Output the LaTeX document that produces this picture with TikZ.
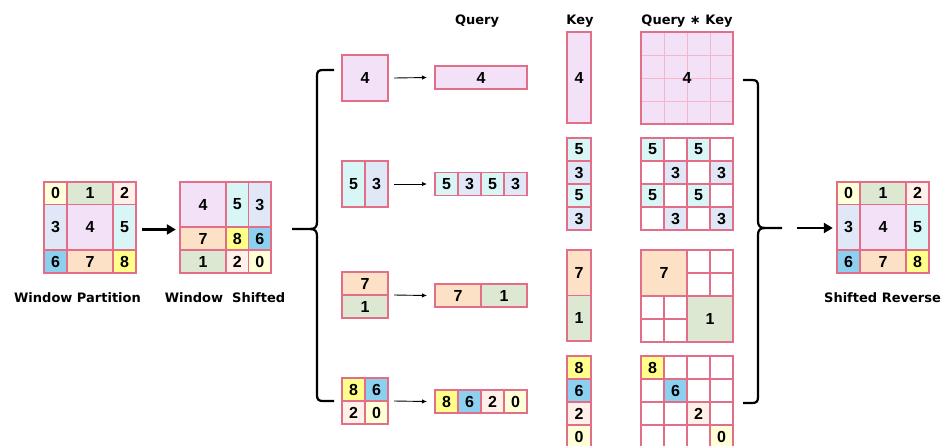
\documentclass[tikz,border=0pt]{standalone}
\usepackage{fontspec}
\setmainfont{DejaVu Sans}
\newfontfamily\numfont{Liberation Sans}
\usetikzlibrary{arrows.meta,fit,calc}

% cell fills
\definecolor{c0}{HTML}{FFFFD8}
\definecolor{c1}{HTML}{DCE8D2}
\definecolor{c2}{HTML}{FFF1EA}
\definecolor{c3}{HTML}{E0E8F8}
\definecolor{c4}{HTML}{F3E1F8}
\definecolor{c5}{HTML}{D9F6F7}
\definecolor{c6}{HTML}{8CD0EF}
\definecolor{c7}{HTML}{FDE1C6}
\definecolor{c8}{HTML}{FFFF8A}
\definecolor{edge}{HTML}{E26E88}
\definecolor{faint}{HTML}{F4B6CA}

\tikzset{
  cell/.style={draw=edge, line width=1.1pt, inner sep=0pt, outer sep=0pt,
               font=\numfont\bfseries\fontsize{16}{16}\selectfont},
  label/.style={anchor=base, font=\bfseries\fontsize{13}{13}\selectfont},
  thinarrow/.style={draw=black, line width=0.9pt, -{Latex[length=5pt,width=4.5pt]}},
  bigarrow/.style={draw=black, line width=2.4pt, -{Triangle[length=9pt,width=10pt]}},
  brace/.style={draw=black, line width=2.2pt, line join=round},
}

% name, x, y (top left), width, height, fill, text
\newcommand\mkcell[7]{%
  \node[cell, fill=#6, minimum width=#4pt, minimum height=#5pt, anchor=north west]
    (#1) at (#2,#3) {#7};}

% the 3x3 partition grid (original window order)
\newcommand\partgrid{%
  \mkcell{p0}{44}{182}{23}{22.5}{c0}{0}
  \mkcell{p1}{67}{182}{46}{22.5}{c1}{1}
  \mkcell{p2}{113}{182}{23}{22.5}{c2}{2}
  \mkcell{p3}{44}{204.5}{23}{45.5}{c3}{3}
  \mkcell{p4}{67}{204.5}{46}{45.5}{c4}{4}
  \mkcell{p5}{113}{204.5}{23}{45.5}{c5}{5}
  \mkcell{p6}{44}{250}{23}{23}{c6}{6}
  \mkcell{p7}{67}{250}{46}{23}{c7}{7}
  \mkcell{p8}{113}{250}{23}{23}{c8}{8}}

\begin{document}
\begin{tikzpicture}[x=1pt, y=-1pt]
\useasboundingbox (0,0) rectangle (944,445);
\clip (0,0) rectangle (944,445);

% ---- window partition ----
\begin{scope}[name prefix=a-]
  \partgrid
\end{scope}
\node[fit=(a-p0)(a-p8), inner sep=0pt] (gridA) {};
\node[label] (labA) at (77.5,302) {Window Partition};

% ---- shifted windows ----
\mkcell{s4}{180}{182}{46}{45}{c4}{4}
\mkcell{s5}{226}{182}{22.5}{45}{c5}{5}
\mkcell{s3}{248.5}{182}{22.5}{45}{c3}{3}
\mkcell{s7}{180}{227}{46}{23}{c7}{7}
\mkcell{s8}{226}{227}{22.5}{23}{c8}{8}
\mkcell{s6}{248.5}{227}{22.5}{23}{c6}{6}
\mkcell{s1}{180}{250}{46}{23}{c1}{1}
\mkcell{s2}{226}{250}{22.5}{23}{c2}{2}
\mkcell{s0}{248.5}{250}{22.5}{23}{c0}{0}
\node[fit=(s4)(s0), inner sep=0pt] (gridB) {};
\node[label] (labB) at (225,302) {Window\ \ Shifted};

\draw[bigarrow] ([xshift=6pt,yshift=-2pt]gridA.east) -- ([xshift=-4pt,yshift=-2pt]gridB.west);

% ---- left brace ----
\draw[brace] (334,70) -- (323,70) .. controls (318.5,70) and (317,71.5) .. (317,76)
  -- (317,222) .. controls (317,227) and (315,229) .. (310,229) -- (292,229);
\draw[brace] (334,401) -- (323,401) .. controls (318.5,401) and (317,399.5) .. (317,395)
  -- (317,236) .. controls (317,231) and (315,229) .. (310,229);

% ---- windows ----
\mkcell{w1}{342}{55}{46}{46}{c4}{4}
\mkcell{w2a}{342}{161}{23}{46}{c5}{5}
\mkcell{w2b}{365}{161}{23}{46}{c3}{3}
\mkcell{w3a}{342}{272}{46}{23}{c7}{7}
\mkcell{w3b}{342}{295}{46}{23}{c1}{1}
\mkcell{w4a}{342}{378}{23}{23}{c8}{8}
\mkcell{w4b}{365}{378}{23}{23}{c6}{6}
\mkcell{w4c}{342}{401}{23}{23}{c2}{2}
\mkcell{w4d}{365}{401}{23}{23}{c0}{0}

% ---- queries ----
\node[label] (hq) at (477,24) {Query};
\mkcell{q1}{435}{66}{92}{23}{c4}{4}
\mkcell{q2a}{435}{172.5}{23}{23}{c5}{5}
\mkcell{q2b}{458}{172.5}{23}{23}{c3}{3}
\mkcell{q2c}{481}{172.5}{23}{23}{c5}{5}
\mkcell{q2d}{504}{172.5}{23}{23}{c3}{3}
\mkcell{q3a}{435}{284}{46}{23}{c7}{7}
\mkcell{q3b}{481}{284}{46}{23}{c1}{1}
\mkcell{q4a}{435}{390}{23}{23}{c8}{8}
\mkcell{q4b}{458}{390}{23}{23}{c6}{6}
\mkcell{q4c}{481}{390}{23}{23}{c2}{2}
\mkcell{q4d}{504}{390}{23}{23}{c0}{0}

\draw[thinarrow] ([xshift=6pt]w1.east) -- ([xshift=-8pt]q1.west);
\draw[thinarrow] ([xshift=6pt]w2b.east) -- ([xshift=-8pt]q2a.west);
\draw[thinarrow] ([xshift=6pt]w3a.south east) -- ([xshift=-8pt]q3a.west);
\draw[thinarrow] ([xshift=6pt]w4b.south east) -- ([xshift=-8pt]q4a.west);

% ---- keys ----
\node[label] (hk) at (580,24) {Key};
\mkcell{k1}{567}{32}{24}{91}{c4}{4}
\mkcell{k2a}{567}{138}{24}{23}{c5}{5}
\mkcell{k2b}{567}{161}{24}{23}{c3}{3}
\mkcell{k2c}{567}{184}{24}{23}{c5}{5}
\mkcell{k2d}{567}{207}{24}{23}{c3}{3}
\mkcell{k3a}{567}{250}{24}{45.5}{c7}{7}
\mkcell{k3b}{567}{295.5}{24}{45.5}{c1}{1}
\mkcell{k4a}{567}{356}{24}{23}{c8}{8}
\mkcell{k4b}{567}{379}{24}{23}{c6}{6}
\mkcell{k4c}{567}{402}{24}{23}{c2}{2}
\mkcell{k4d}{567}{425}{24}{23}{c0}{0}

% ---- attention maps ----
\node[label] (hqk) at (687,24) {Query ∗ Key};

% window 4: one full block
\mkcell{m1}{641}{32}{92}{92}{c4}{}
\foreach \t in {23,46,69} {
  \draw[faint, line width=0.8pt] ($(m1.north west)+(\t,1)$) -- ($(m1.south west)+(\t,-1)$);
  \draw[faint, line width=0.8pt] ($(m1.north west)+(1,\t)$) -- ($(m1.north east)+(-1,\t)$);
}
\draw[edge, line width=1.1pt] (m1.north west) rectangle (m1.south east);
\node[font=\numfont\bfseries\fontsize{16}{16}\selectfont] (m1t) at (m1.center) {4};

% windows 5/3: same-region pairs only
\foreach \c/\r/\f/\t in {0/0/c5/5, 1/0/white/, 2/0/c5/5, 3/0/white/,
                         0/1/white/, 1/1/c3/3, 2/1/white/, 3/1/c3/3,
                         0/2/c5/5, 1/2/white/, 2/2/c5/5, 3/2/white/,
                         0/3/white/, 1/3/c3/3, 2/3/white/, 3/3/c3/3} {
  \mkcell{m2-\r-\c}{641+23*\c}{138+23*\r}{23}{23}{\f}{\t}
}

% windows 7/1
\mkcell{m3a}{641}{250}{46}{46}{c7}{7}
\mkcell{m3d}{687}{296}{46}{46}{c1}{1}
\foreach \c/\r in {0/0, 1/0, 0/1, 1/1} {
  \mkcell{m3b-\r-\c}{687+23*\c}{250+23*\r}{23}{23}{white}{}
  \mkcell{m3c-\r-\c}{641+23*\c}{296+23*\r}{23}{23}{white}{}
}

% windows 8/6/2/0: diagonal only
\foreach \r in {0,1,2,3} {
  \foreach \c in {0,1,2,3} {
    \mkcell{m4-\r-\c}{641+23*\c}{356+23*\r}{23}{23}{white}{}
  }
}
\mkcell{m4d0}{641}{356}{23}{23}{c8}{8}
\mkcell{m4d1}{664}{379}{23}{23}{c6}{6}
\mkcell{m4d2}{687}{402}{23}{23}{c2}{2}
\mkcell{m4d3}{710}{425}{23}{23}{c0}{0}

% ---- right brace ----
\draw[brace] (743,80) -- (752,80) .. controls (756.5,80) and (758,81.5) .. (758,86)
  -- (758,221) .. controls (758,226) and (760,228) .. (765,228) -- (782,228);
\draw[brace] (743,403) -- (752,403) .. controls (756.5,403) and (758,401.5) .. (758,397)
  -- (758,235) .. controls (758,230) and (760,228) .. (765,228);
\coordinate (rt) at (797,228);

% ---- shifted reverse ----
\begin{scope}[name prefix=c-, shift={(793,0)}]
  \partgrid
\end{scope}
\node[fit=(c-p0)(c-p8), inner sep=0pt] (gridC) {};
\node[label] (labC) at (882.5,302) {Shifted Reverse};

\draw[bigarrow] (rt) -- ([xshift=-4pt]gridC.west |- rt);
\end{tikzpicture}
\end{document}
